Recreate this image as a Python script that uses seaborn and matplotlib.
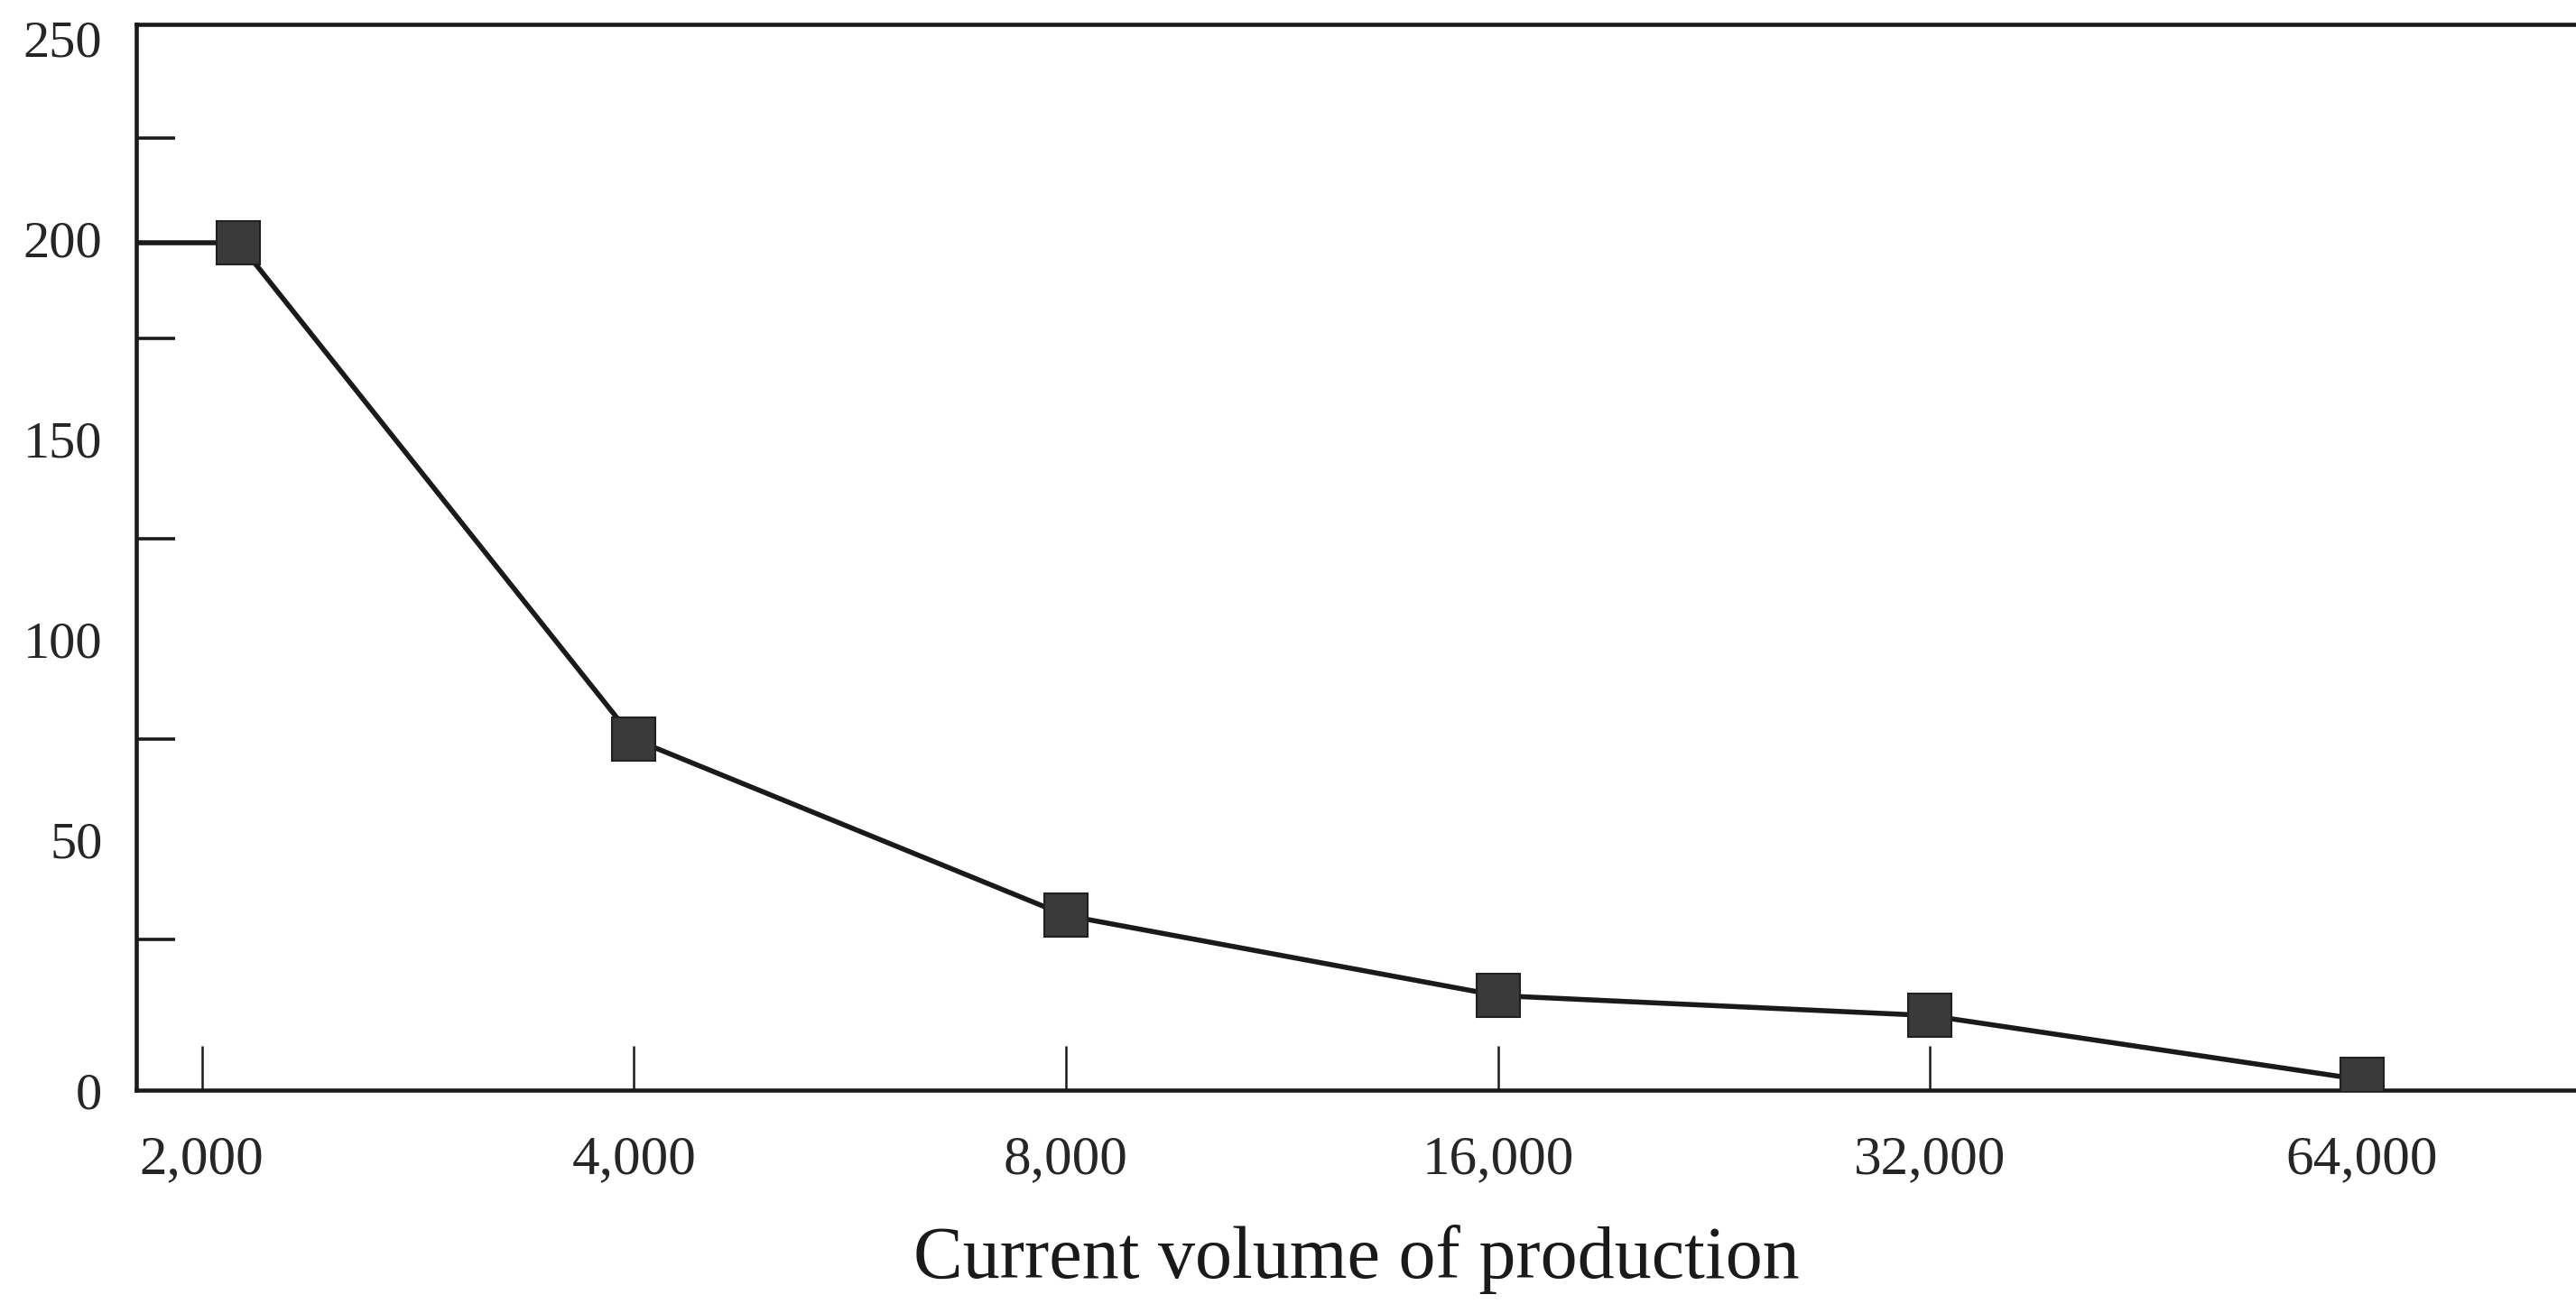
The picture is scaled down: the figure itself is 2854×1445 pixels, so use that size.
import seaborn as sns
import matplotlib.pyplot as plt
import numpy as np
import pandas as pd
from matplotlib.ticker import NullLocator

# values
volume = [2120, 4000, 8000, 16000, 32000, 64000]
cost = [199, 75, 31, 11, 6, -10]

xtick_vals = [2000, 4000, 8000, 16000, 32000, 64000]
xtick_labels = ['2,000', '4,000', '8,000', '16,000', '32,000', '64,000']
ytick_vals = [-12.6, 50, 100, 150, 200, 250]
ytick_labels = ['0', '50', '100', '150', '200', '250']
yminor_vals = [25, 75, 125, 175, 225]

df = pd.DataFrame({'volume': volume, 'cost': cost})

sns.set_style('white')
plt.rcParams['font.family'] = ['Liberation Serif', 'DejaVu Serif']

fig = plt.figure(figsize=(28.54, 14.45), dpi=100)
ax = fig.add_axes([0.0529, 0.164, 0.9471, 0.8173])

ax.set_xscale('log', base=2)
ax.set_xlim(1800, 90200)
ax.set_ylim(-12.6, 253.4)

# short stub from the axis to the first point
ax.plot([ax.get_xlim()[0], df['volume'][0]], [df['cost'][0], df['cost'][0]],
        color='#1a1a1a', lw=4, solid_capstyle='butt', zorder=2)

sns.lineplot(data=df, x='volume', y='cost', ax=ax, color='#1a1a1a', lw=4,
             marker='s', markersize=34, markerfacecolor='#3a3a3a',
             markeredgecolor='#202020', markeredgewidth=1.5, zorder=3)

ax.xaxis.set_minor_locator(NullLocator())
ax.set_xticks(xtick_vals)
ax.set_xticklabels(xtick_labels)
ax.set_yticks(ytick_vals)
ax.set_yticklabels(ytick_labels)
ax.set_yticks(yminor_vals, minor=True)

ax.tick_params(axis='x', which='major', direction='in', length=35, width=1.8,
               color='#1a1a1a', labelsize=44, pad=36, bottom=True)
ax.tick_params(axis='y', which='major', length=0, labelsize=42, pad=27, left=True)
ax.tick_params(axis='y', which='minor', direction='in', length=31, width=2.6,
               color='#1a1a1a', left=True)
ax.xaxis.get_major_ticks()[-1].tick1line.set_visible(False)

for side in ['left', 'bottom', 'top']:
    ax.spines[side].set_color('#1a1a1a')
    ax.spines[side].set_linewidth(3.3)
ax.spines['right'].set_visible(False)

ax.set_xlabel('Current volume of production', fontsize=59, labelpad=31, color='#1a1a1a')
ax.set_ylabel('')

plt.savefig('out.png', dpi=100, facecolor='white')
